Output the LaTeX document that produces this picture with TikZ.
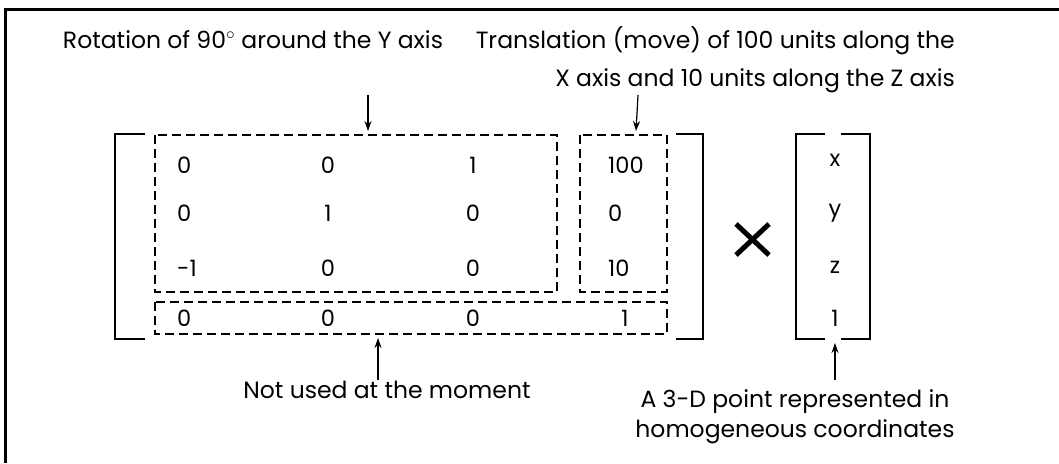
\documentclass[tikz,border=0pt]{standalone}
\usepackage{fontspec}
\setmainfont{Poppins}
\usetikzlibrary{arrows.meta}
\begin{document}
\begin{tikzpicture}[x=1pt,y=-1pt,
  lbl/.style={font=\fontsize{23.5}{38}\selectfont, inner sep=0pt},
  lbltwo/.style={font=\fontsize{23.5}{30}\selectfont, inner sep=0pt},
  ent/.style={font=\fontsize{22.5}{27}\selectfont, inner sep=0pt},
  dbox/.style={draw, line width=2.6pt, dash pattern=on 9pt off 5pt},
  brk/.style={draw, line width=2.6pt},
  arr/.style={draw, line width=1.2pt, -{Stealth[length=10pt,width=7pt]}}]
\useasboundingbox (0,0) rectangle (1059,463);
% frame
\draw[line width=3pt] (5,463) -- (5,9) -- (1059,9);
% labels
\node[lbl] (rot) at (253,40) {Rotation of 90$^{\circ}$ around the Y axis};
\node[lbl, align=right, anchor=base east] (tra) at (955,86) {Translation (move) of 100 units along the\\X axis and 10 units along the Z axis};
\node[lbl] (nu) at (387,390) {Not used at the moment};
\node[lbltwo, align=center] (pt) at (795,417) {A 3-D point represented in\\homogeneous coordinates};
% dashed boxes
\draw[dbox] (155,135) rectangle (557,292);
\draw[dbox] (580,135) rectangle (667,292);
\draw[dbox] (155,302) rectangle (667,334);
\coordinate (rtop) at (368,131);
\coordinate (ttop) at (636,131);
\coordinate (nbot) at (378,338);
% brackets
\draw[brk] (145,134) -- (115,134) -- (115,339) -- (145,339);
\draw[brk] (676,134) -- (703,134) -- (703,339) -- (676,339);
\draw[brk] (825,134) -- (796,134) -- (796,339) -- (825,339);
\draw[brk] (841,134) -- (870,134) -- (870,339) -- (841,339);
\coordinate (vbot) at (835,343);
% times
\draw[line width=5pt] (736,224) -- (769,255) (769,224) -- (736,255);
% entries
\foreach \y/\a/\b/\c in {165/0/0/1, 213/0/1/0, 268/-1/0/0, 318/0/0/0}{
  \node[ent, anchor=west] at (177,\y) {\a};
  \node[ent] at (328,\y) {\b};
  \node[ent] at (473,\y) {\c};
}
\node[ent, anchor=west] at (608,165) {100};
\node[ent, anchor=west] at (608,213) {0};
\node[ent, anchor=west] at (608,268) {10};
\node[ent] at (625,318) {1};
\node[ent] (vx) at (835,160) {x};
\node[ent] (vy) at (835,213) {y};
\node[ent] (vz) at (835,267) {z};
\node[ent] (v1) at (835,318) {1};
% arrows
\draw[arr] (368,95) -- (rtop);
\draw[arr] (638,95) -- (ttop);
\draw[arr] (378,380) -- (nbot);
\draw[arr] (835,380) -- (vbot);
\end{tikzpicture}
\end{document}
